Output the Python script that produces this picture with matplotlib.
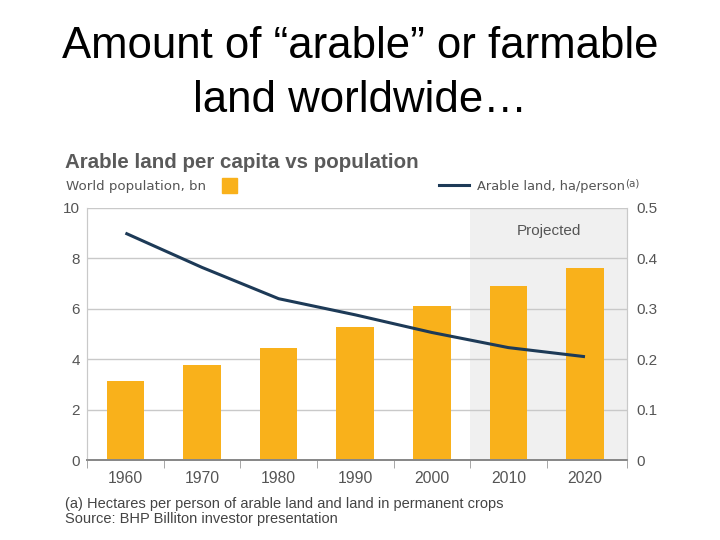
import matplotlib
matplotlib.use("Agg")
import matplotlib.pyplot as plt
from matplotlib.patches import Rectangle
from matplotlib.lines import Line2D

plt.rcParams['font.family'] = ['Liberation Sans', 'DejaVu Sans']

years = ["1960", "1970", "1980", "1990", "2000", "2010", "2020"]
population_bn = [3.15, 3.78, 4.43, 5.29, 6.12, 6.90, 7.62]
arable_ha_per_person = [0.45, 0.382, 0.32, 0.288, 0.253, 0.223, 0.205]
left_ticks = [0, 2, 4, 6, 8, 10]
right_ticks = [0, 0.1, 0.2, 0.3, 0.4, 0.5]
right_tick_labels = ["0", "0.1", "0.2", "0.3", "0.4", "0.5"]
projected_start = 4.5

BAR = "#f9b11b"
LINE = "#1d3a57"
GRID = "#c9c9c9"
TXT = "#555555"
XMAX = 6.55

fig = plt.figure(figsize=(7.2, 5.4), dpi=100)
fig.patch.set_facecolor("white")

fig.text(0.5, (540 - 58) / 540, "Amount of \u201carable\u201d or farmable",
         ha="center", va="baseline", fontsize=31.5, color="black")
fig.text(0.5, (540 - 112) / 540, "land worldwide\u2026",
         ha="center", va="baseline", fontsize=31.5, color="black")

ax = fig.add_axes([0.121, 0.148, 0.750, 0.467])
x = list(range(len(years)))
ax.set_xlim(-0.5, XMAX)
ax.set_ylim(0, 10)

ax.axvspan(projected_start, XMAX, color="#f0f0f0", zorder=0, lw=0)
ax.text((projected_start + XMAX) / 2, 9.1, "Projected", ha="center", va="center",
        fontsize=11, color=TXT)

for t in left_ticks[1:]:
    ax.axhline(t, color=GRID, lw=1.0, zorder=1)

ax.bar(x, population_bn, width=0.49, color=BAR, zorder=2)

ax2 = ax.twinx()
ax2.set_ylim(0, 0.5)
ax2.plot(x, arable_ha_per_person, color=LINE, lw=2.2, zorder=3,
         solid_capstyle="butt")

for a in (ax, ax2):
    a.spines["top"].set_visible(False)
    a.spines["left"].set_color(GRID)
    a.spines["right"].set_color(GRID)
    a.spines["bottom"].set_color("#888888")
    a.spines["bottom"].set_linewidth(1.3)

ax.set_yticks(left_ticks)
ax.set_yticklabels([str(t) for t in left_ticks])
ax.tick_params(axis="y", length=0, pad=5, labelsize=11, labelcolor=TXT)
ax.set_yticks([0, 10], minor=True)
ax.tick_params(axis="y", which="minor", length=4, color=GRID)
ax2.set_yticks(right_ticks)
ax2.set_yticklabels(right_tick_labels)
ax2.tick_params(axis="y", length=0, pad=6.5, labelsize=11, labelcolor=TXT)
ax2.set_yticks([0, 0.5], minor=True)
ax2.tick_params(axis="y", which="minor", length=4, color=GRID)

ax.set_xticks(x)
ax.set_xticklabels(years)
ax.tick_params(axis="x", length=0, pad=8, labelsize=11.3, labelcolor=TXT)
ax.set_xticks([-0.5] + [i + 0.5 for i in x[:-1]] + [XMAX], minor=True)
ax.tick_params(axis="x", which="minor", length=6, color="#999999", direction="out")

# Headings
fig.text(0.090, 0.699, "Arable land per capita vs population", fontsize=14.8,
         fontweight="bold", color="#5a5a5a", va="center", ha="left")
fig.text(0.092, 0.655, "World population, bn", fontsize=9.6, color=TXT,
         va="center", ha="left", family="DejaVu Sans")
fig.patches.append(Rectangle((0.308, 0.642), 0.021, 0.028, transform=fig.transFigure,
                             color=BAR, figure=fig))
fig.lines.append(Line2D([0.610, 0.652], [0.658, 0.658], transform=fig.transFigure,
                        color=LINE, lw=2.2, figure=fig))
fig.text(0.663, 0.655, "Arable land, ha/person", fontsize=9.4, color=TXT,
         va="center", ha="left", family="DejaVu Sans")
fig.text(0.868, 0.661, "(a)", fontsize=7.5, color=TXT, va="center", ha="left",
         family="DejaVu Sans")

fig.text(0.090, 0.067, "(a) Hectares per person of arable land and land in permanent crops",
         fontsize=10.5, color="#444444", va="center", ha="left")
fig.text(0.090, 0.038, "Source: BHP Billiton investor presentation",
         fontsize=10.5, color="#444444", va="center", ha="left")

fig.savefig("out.png", dpi=100, facecolor="white")
